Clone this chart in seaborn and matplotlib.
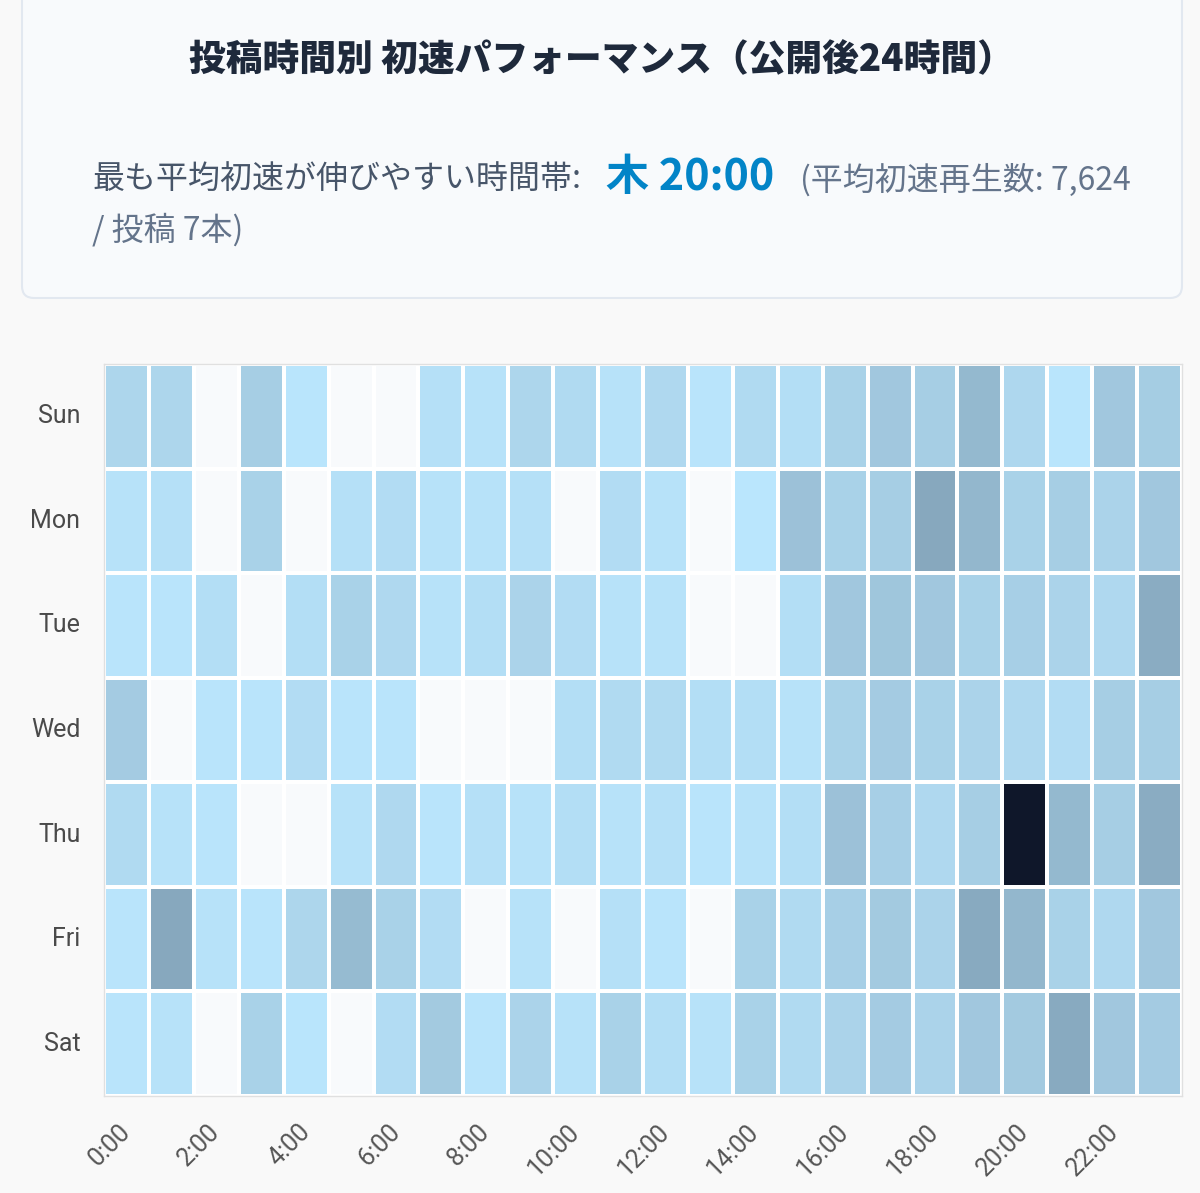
import numpy as np
import pandas as pd
import matplotlib
matplotlib.use("Agg")
import matplotlib.pyplot as plt
from matplotlib.colors import LinearSegmentedColormap
from matplotlib.patches import FancyBboxPatch
from matplotlib.transforms import IdentityTransform
import seaborn as sns

days = ["Sun", "Mon", "Tue", "Wed", "Thu", "Fri", "Sat"]
hours = [f"{h}:00" for h in range(24)]

# average first-24h views per post, 0 = no posts in that slot
sun = [610, 620, 0, 915, 45, 0, 0, 230, 160, 600, 470, 150, 530, 80, 460, 300, 770, 1140, 920, 1680, 540, 40, 1150, 930]
mon = [150, 230, 0, 760, 0, 230, 380, 160, 150, 230, 0, 380, 150, 0, 30, 1370, 760, 920, 2290, 1750, 770, 900, 690, 1140]
tue = [80, 90, 300, 0, 310, 770, 530, 150, 300, 690, 380, 150, 160, 0, 0, 300, 1150, 1220, 1140, 760, 840, 690, 530, 2140]
wed = [990, 0, 70, 80, 380, 70, 80, 0, 0, 0, 300, 460, 460, 300, 310, 150, 760, 990, 760, 690, 530, 380, 920, 910]
thu = [460, 150, 80, 0, 0, 150, 530, 80, 230, 150, 300, 150, 230, 80, 150, 300, 1370, 840, 530, 920, 7624, 1680, 920, 2130]
fri = [80, 2290, 150, 80, 610, 1600, 760, 380, 0, 150, 0, 230, 80, 0, 760, 460, 840, 1070, 690, 2210, 1750, 760, 530, 1140]
sat = [80, 150, 0, 760, 40, 0, 380, 1070, 80, 690, 150, 760, 300, 150, 760, 460, 690, 990, 690, 1140, 1070, 2210, 1140, 990]

best_label = "木 20:00"
best_avg = "7,624"
best_posts = 7

df = pd.DataFrame([sun, mon, tue, wed, thu, fri, sat], index=days, columns=hours)

sns.set_theme(style="white")
plt.rcParams['font.family'] = ['Roboto', 'Noto Sans CJK JP', 'DejaVu Sans']
jp = ['Noto Sans CJK JP', 'DejaVu Sans']

fig = plt.figure(figsize=(12, 11.93), dpi=100)
fig.patch.set_facecolor('#f9f9f9')

# header card
card = FancyBboxPatch((22, 1193 - 298), 1160, 330, boxstyle="round,pad=0,rounding_size=12",
                      transform=IdentityTransform(), facecolor='#f8fafc', edgecolor='#e2e8f0',
                      linewidth=1.5, zorder=0)
fig.patches.append(card)

W, H = 1200, 1193
fig.text(601 / W, 1 - 60 / H, "投稿時間別 初速パフォーマンス（公開後24時間）", ha='center', va='center',
         fontsize=26.5, fontweight='heavy', color='#1e293b', family=jp)
fig.text(92 / W, 1 - 179 / H, "最も平均初速が伸びやすい時間帯:", ha='left', va='center',
         fontsize=23, color='#475569', family=jp)
fig.text(606 / W, 1 - 177 / H, best_label, ha='left', va='center',
         fontsize=31, fontweight='bold', color='#0284c7', family=jp)
fig.text(800 / W, 1 - 180 / H, f"(平均初速再生数: {best_avg}", ha='left', va='center',
         fontsize=23, color='#64748b', family=jp)
fig.text(92 / W, 1 - 230 / H, f"/ 投稿 {best_posts}本)", ha='left', va='center',
         fontsize=23, color='#64748b', family=jp)

cmap = LinearSegmentedColormap.from_list('speed', ['#bae6fd', '#0f172a'])
cmap.set_under('#f8fafc')

ax = fig.add_axes([104 / W, 1 - 1096 / H, (1182 - 104) / W, (1096 - 364) / H])
ax.set_facecolor('white')
sns.heatmap(df, cmap=cmap, vmin=1, vmax=7624, linewidths=2.8, linecolor='white',
            cbar=False, ax=ax)

ax.set_xticks(np.arange(0, 24, 2) + 0.5)
ax.set_xticklabels(hours[::2], rotation=45, ha='right', va='center', rotation_mode='anchor',
                   fontsize=18, color='#555555')
ax.set_yticks(np.arange(7) + 0.5)
ax.set_yticklabels(days, rotation=0, fontsize=18, color='#4a4a4a')
ax.tick_params(axis='x', length=0, pad=23)
ax.tick_params(axis='y', length=0, pad=17)
ax.set_xlabel("")
ax.set_ylabel("")
for s in ax.spines.values():
    s.set_visible(True)
    s.set_color('#e0e0e0')
    s.set_linewidth(1)

fig.savefig('out.png', dpi=100, facecolor=fig.get_facecolor())
